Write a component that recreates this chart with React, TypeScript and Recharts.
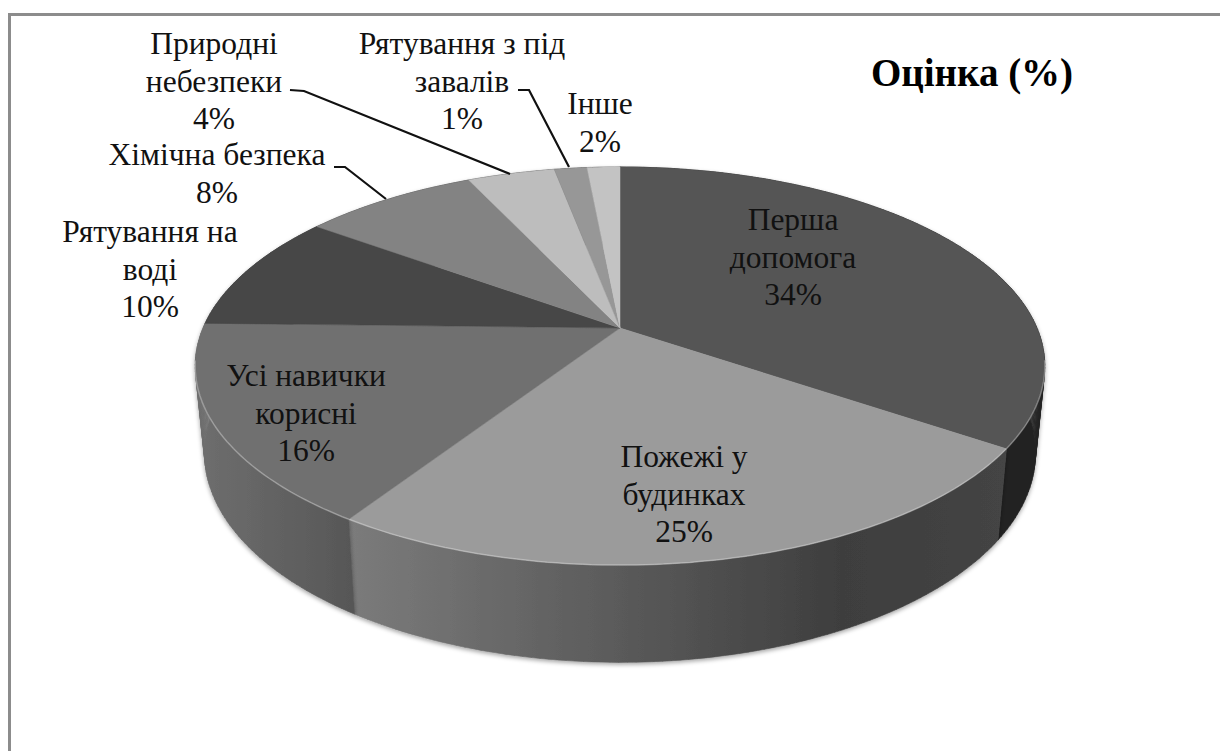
import React from 'react';
import { Pie, PieChart } from 'recharts';

const categories = [
  ['Перша', 'допомога'],
  ['Пожежі у', 'будинках'],
  ['Усі навички', 'корисні'],
  ['Рятування на', 'воді'],
  ['Хімічна безпека'],
  ['Природні', 'небезпеки'],
  ['Рятування з під', 'завалів'],
  ['Інше'],
];
// slice sizes, the printed labels are rounded
const shares = [34.5, 24.7, 16.2, 9.6, 8, 4, 1.5, 1.5];
const percentLabels = ['34%', '25%', '16%', '10%', '8%', '4%', '1%', '2%'];
const chartTitle = 'Оцінка (%)';

const topColors = ['#555555', '#9b9b9b', '#707070', '#474747', '#838383', '#bdbdbd', '#979797', '#c3c3c3'];
const wallFills = ['#242424', 'url(#wallFires)', 'url(#wallSkills)', '#444444', '#444444', '#444444', '#444444', '#444444'];

// where each label sits: centre x, first baseline
const labelSpots = [
  { x: 793, y: 230 },
  { x: 684, y: 467 },
  { x: 306, y: 386 },
  { x: 150, y: 242 },
  { x: 217, y: 165 },
  { x: 214, y: 54 },
  { x: 462, y: 54 },
  { x: 600, y: 114 },
];
const leaders: Record<number, string> = {
  4: '334,167 345,167 386,199',
  5: '290,90 304,91 510,174',
  6: '518,90 529,90 569,167',
};

const data = shares.map((value, i) => ({ name: categories[i].join(' '), value }));

// the flat pie is tilted through a simple perspective
const TILT = 0.191;
const SQUASH = 0.46;
const LINE_HEIGHT = 37.5;

const project = (cx: number, cy: number, r: number, deg: number) => {
  const a = (deg * Math.PI) / 180;
  const w = 1 + TILT * Math.sin(a);
  return { x: cx + (r * Math.cos(a)) / w, y: cy - (r * SQUASH * Math.sin(a)) / w };
};

// same rim point, on the underside of the disc
const drop = (cx: number, p: { x: number; y: number }) => ({
  x: cx + (p.x - cx) * 0.978,
  y: p.y * 1.05 + 69,
});

const rim = (cx: number, cy: number, r: number, from: number, to: number) => {
  const n = Math.max(2, Math.ceil(Math.abs(to - from)));
  return Array.from({ length: n + 1 }, (_, i) => project(cx, cy, r, from + ((to - from) * i) / n));
};

const toPath = (pts: { x: number; y: number }[]) =>
  pts.map((p, i) => `${i ? 'L' : 'M'}${p.x.toFixed(1)} ${p.y.toFixed(1)}`).join(' ');

const TopFace = (props: any) => {
  const { cx, cy, outerRadius, startAngle, endAngle, index } = props;
  const edge = rim(cx, cy, outerRadius, startAngle, endAngle);
  const front = edge.filter((p) => p.y > cy + 30);
  return (
    <g>
      <path d={`${toPath(edge)} L${cx} ${cy} Z`} fill={topColors[index]} stroke={topColors[index]} strokeWidth={0.5} />
      {front.length > 1 && (
        <path d={toPath(front)} fill="none" stroke="#ffffff" strokeOpacity={0.3} strokeWidth={1.5} />
      )}
    </g>
  );
};

// one strip per degree, so the side edges of the disc stay filled
const WallFace = (props: any) => {
  const { cx, cy, outerRadius, startAngle, endAngle, index } = props;
  const edge = rim(cx, cy, outerRadius, startAngle, endAngle);
  const strips = edge.slice(1).map((p, i) => {
    const q = edge[i];
    return `${toPath([q, p, drop(cx, p), drop(cx, q)])} Z`;
  });
  return (
    <path
      d={strips.join(' ')}
      fill={wallFills[index]}
      fillRule="nonzero"
      stroke={wallFills[index]}
      strokeWidth={0.6}
      filter="url(#wallShadow)"
    />
  );
};

const renderLabel = (props: any) => {
  const { index } = props;
  const spot = labelSpots[index];
  const lines = [...categories[index], percentLabels[index]];
  return (
    <g key={index}>
      {leaders[index] && <polyline points={leaders[index]} fill="none" stroke="#111111" strokeWidth={2.2} />}
      {lines.map((line, i) => (
        <text
          key={line}
          x={spot.x}
          y={spot.y + i * LINE_HEIGHT}
          textAnchor="middle"
          fontFamily="'Liberation Serif', serif"
          fontSize={31.5}
          fill="#111111"
        >
          {line}
        </text>
      ))}
    </g>
  );
};

export default function App() {
  return (
    <div style={{ position: 'absolute', left: 0, top: 0, width: 1220, height: 751, background: '#fff', overflow: 'hidden' }}>
      <div style={{ position: 'absolute', left: 8, top: 13, width: 1300, height: 800, borderTop: '3px solid #8c8c8c', borderLeft: '3px solid #8c8c8c' }} />
      <div style={{ position: 'absolute', left: 0, top: 0 }}>
        <PieChart width={1220} height={751} margin={{ top: 0, right: 0, bottom: 0, left: 0 }}>
          <defs>
            <linearGradient id="wallFires" gradientUnits="userSpaceOnUse" x1={351} y1={0} x2={1005} y2={0}>
              <stop offset="0" stopColor="#7b7b7b" />
              <stop offset="0.45" stopColor="#575757" />
              <stop offset="0.75" stopColor="#3e3e3e" />
              <stop offset="1" stopColor="#444444" />
            </linearGradient>
            <linearGradient id="wallSkills" gradientUnits="userSpaceOnUse" x1={200} y1={0} x2={357} y2={0}>
              <stop offset="0" stopColor="#6e6e6e" />
              <stop offset="1" stopColor="#565656" />
            </linearGradient>
            <filter id="wallShadow" x="-10%" y="-10%" width="120%" height="130%">
              <feDropShadow dx={0} dy={2} stdDeviation={2} floodColor="#000000" floodOpacity={0.35} />
            </filter>
          </defs>
          <Pie
            data={data}
            dataKey="value"
            cx={620}
            cy={328}
            outerRadius={417}
            startAngle={90}
            endAngle={-270}
            stroke="none"
            shape={WallFace}
            isAnimationActive={false}
          />
          <Pie
            data={data}
            dataKey="value"
            cx={620}
            cy={328}
            outerRadius={417}
            startAngle={90}
            endAngle={-270}
            stroke="none"
            shape={TopFace}
            label={renderLabel}
            labelLine={false}
            isAnimationActive={false}
          />
          <text
            x={972}
            y={86}
            textAnchor="middle"
            fontFamily="'Liberation Serif', serif"
            fontWeight="bold"
            fontSize={39}
            fill="#000000"
          >
            {chartTitle}
          </text>
        </PieChart>
      </div>
    </div>
  );
}
